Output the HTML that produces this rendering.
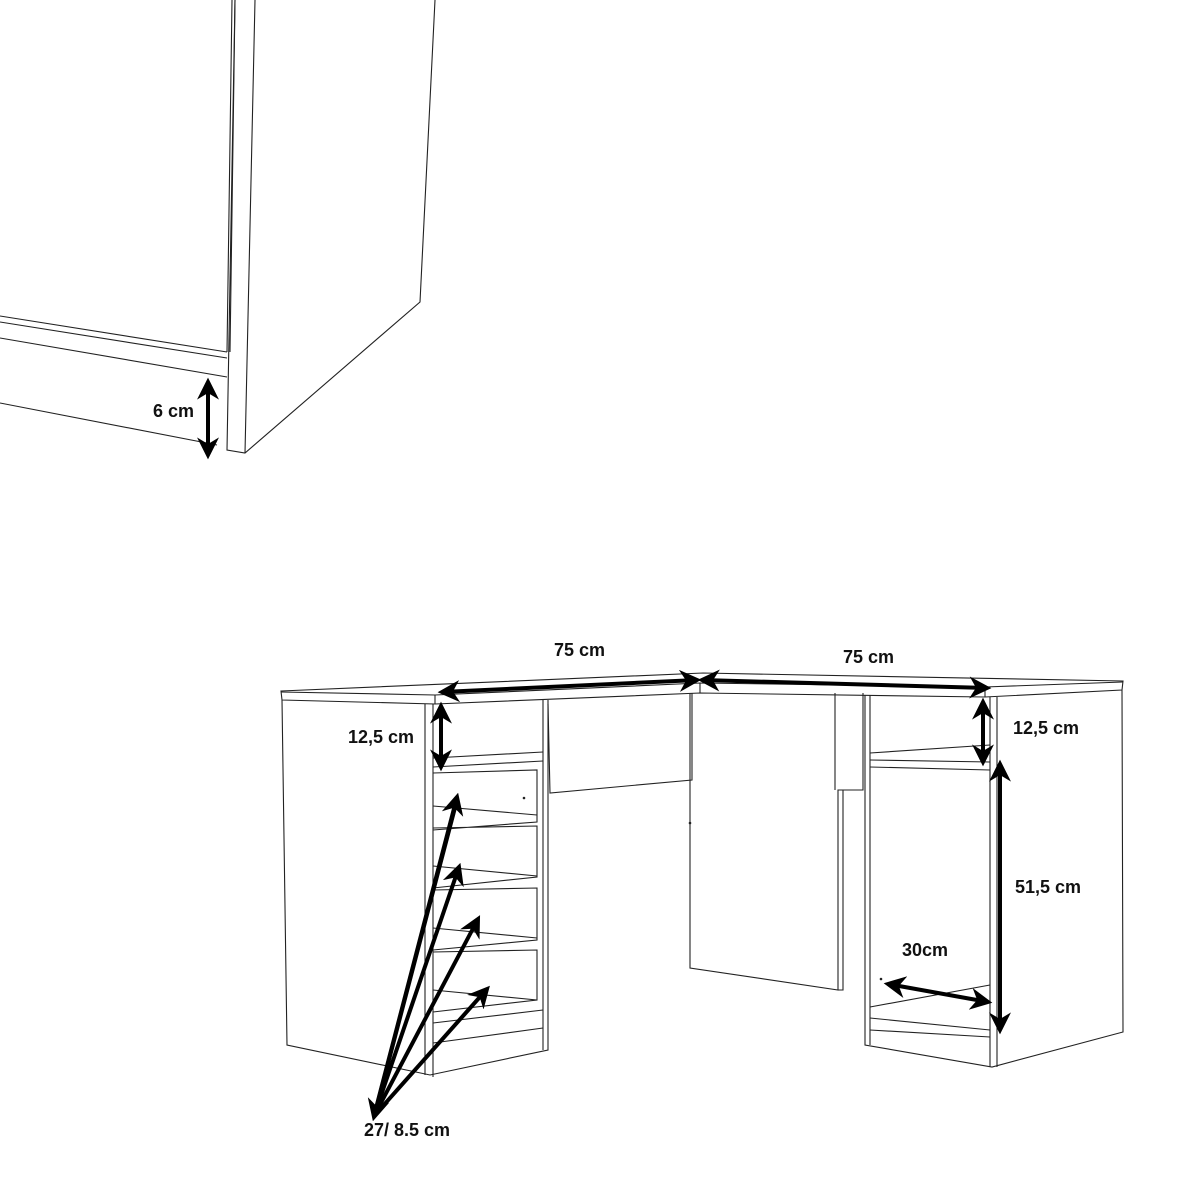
<!DOCTYPE html>
<html><head><meta charset="utf-8"><style>
html,body{margin:0;padding:0;background:#fff}
svg{display:block}
text{font-family:"Liberation Sans",Arial,sans-serif;font-weight:bold;font-size:18px;fill:#111}
</style></head><body>
<svg width="1200" height="1200" viewBox="0 0 1200 1200" xmlns="http://www.w3.org/2000/svg">
<defs>
<marker id="a" viewBox="0 0 10 10" refX="8" refY="5" markerWidth="5.5" markerHeight="5.5" orient="auto-start-reverse"><path d="M0,0 L10,5 L0,10 L3,5 z" fill="#000"/></marker>
</defs>
<g fill="none" stroke="#222" stroke-width="1.1">
<path d="M232,0 L227,352 M235,0 L230,352"/>
<path d="M0,316 L227,352 M0,322 L227,358 M0,338 L227,377 M0,403 L217,445"/>
<path d="M235,0 L227,450 L245,453 L420,302 L435,0 M255,0 L245,453"/>
<path d="M281,691 L703,673 L1123,681 L1122,690 L985,697 L700,693 L435,704 L282,700 Z"/>
<path d="M281,692 L435,695 L700,683 L985,687 L1123,682"/>
<path d="M435,695 L435,704 M700,683 L700,693 M985,687 L985,697"/>
<path d="M282,700 L287,1045 L430,1075 L548,1050 L548,700"/>
<path d="M425,704 L425,1075 M433,704 L433,1077 M543,700 L543,1050"/>
<path d="M433,758 L543,752 M433,767 L543,761"/>
<path d="M433,1023 L543,1010 M433,1043 L543,1028"/>
<path d="M433,773 L537,770 L537,822 L433,830 M433,828 L537,826 L537,877 L433,888 M433,890 L537,888 L537,940 L433,950 M433,952 L537,950 L537,1000 L433,1012"/>
<path d="M433,806 L537,815 M433,866 L537,876 M433,928 L537,938 M433,990 L537,1000"/>
<path d="M548,704 L550,793 L692,780 L692,693"/>
<path d="M690,693 L690,968 L838,990 L838,790 L863,790 L863,693 M843,790 L843,990 L838,990 M835,693 L835,790"/>
<path d="M865,695 L865,1045 L992,1067 L1123,1032 L1122,690 M870,695 L870,1045 M990,697 L990,1067 M997,697 L997,1067"/>
<path d="M870,753 L990,745 M870,760 L990,762 M870,767 L990,770"/>
<path d="M870,1007 L990,985 M870,1018 L990,1030 M870,1030 L990,1037"/>
</g>
<g fill="#222"><circle cx="524" cy="798" r="1.3"/><circle cx="690" cy="823" r="1.3"/><circle cx="881" cy="979" r="1.3"/></g>
<g stroke="#000" stroke-width="4" fill="none" marker-start="url(#a)" marker-end="url(#a)">
<line x1="208" y1="382" x2="208" y2="455"/>
<line x1="442" y1="692" x2="697" y2="680"/>
<line x1="702" y1="680" x2="987" y2="688"/>
<line x1="441" y1="706" x2="441" y2="767"/>
<line x1="983" y1="702" x2="983" y2="762"/>
<line x1="1000" y1="764" x2="1000" y2="1030"/>
<line x1="888" y1="984" x2="988" y2="1002"/>
</g>
<g stroke="#000" stroke-width="4" fill="none" marker-end="url(#a)">
<line x1="374" y1="1116" x2="457" y2="797"/>
<line x1="374" y1="1116" x2="459" y2="867"/>
<line x1="374" y1="1116" x2="478" y2="919"/>
<line x1="374" y1="1116" x2="487" y2="989"/>
<line x1="457" y1="800" x2="374" y2="1117"/>
</g>
<text x="153" y="417">6 cm</text>
<text x="554" y="656">75 cm</text>
<text x="843" y="663">75 cm</text>
<text x="348" y="743">12,5 cm</text>
<text x="1013" y="734">12,5 cm</text>
<text x="1015" y="893">51,5 cm</text>
<text x="902" y="956">30cm</text>
<text x="364" y="1136">27/ 8.5 cm</text>
</svg>
</body></html>
